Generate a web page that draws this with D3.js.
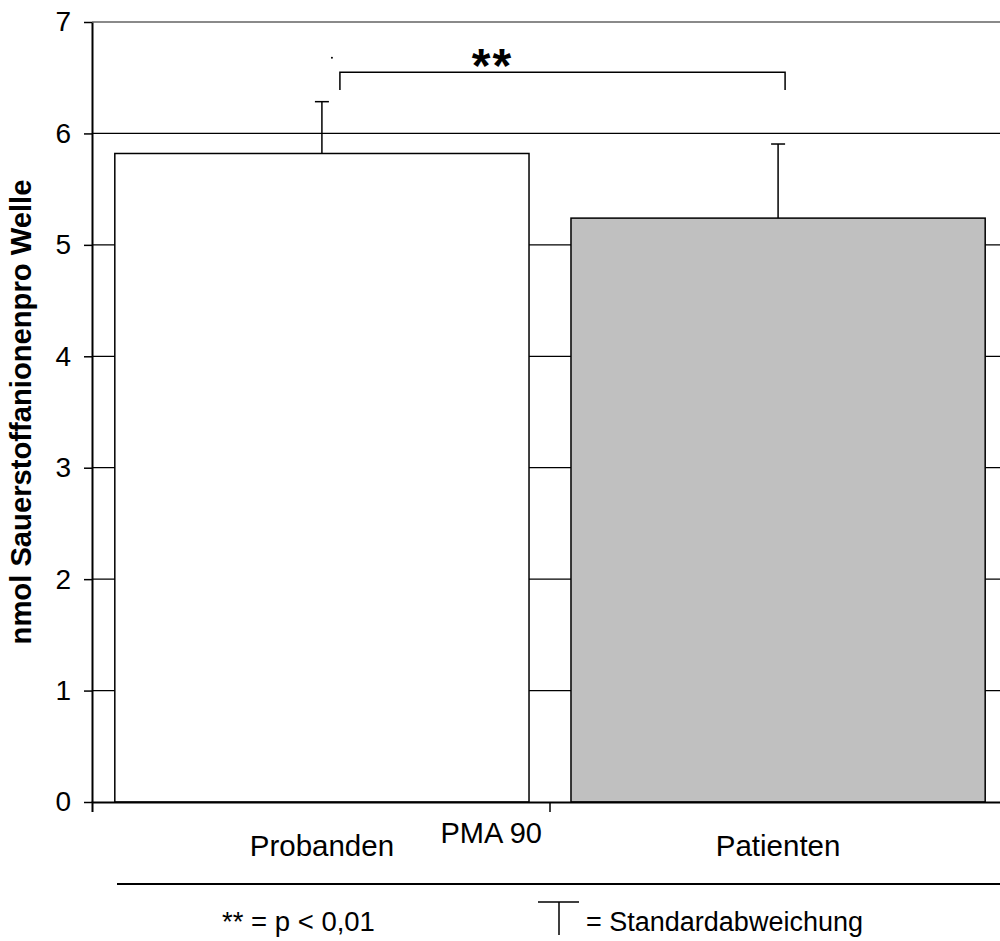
<!DOCTYPE html>
<html>
<head>
<meta charset="utf-8">
<script src="https://cdn.jsdelivr.net/npm/d3@7"></script>
<style>
  body { margin: 0; background: #fff; }
  svg { display: block; font-family: "Liberation Sans", Arial, sans-serif; }
</style>
</head>
<body>
<div id="chart"></div>
<script>
// values
const categories = ["Probanden", "Patienten"];
const means = [5.82, 5.24];
const sds = [0.465, 0.665];
const barColors = ["#ffffff", "#c0c0c0"];
const yTicks = [0, 1, 2, 3, 4, 5, 6, 7];
const axisTitleX = "PMA 90";
const axisTitleY = "nmol Sauerstoffanionenpro Welle";
const sigLabel = "**";
const sigLevels = [6.55, 6.39]; // bracket top, bracket ends
const legendItems = ["** = p < 0,01", "= Standardabweichung"];

const width = 1000, height = 941;
const plotLeft = 92, plotRight = 1008, plotTop = 22, plotBottom = 802;

const svg = d3.select("#chart").append("svg")
  .attr("width", width)
  .attr("height", height);

const y = d3.scaleLinear().domain([0, 7]).range([plotBottom, plotTop]);
const x = d3.scaleBand()
  .domain(categories)
  .range([plotLeft, plotRight])
  .paddingInner(0.092)
  .paddingOuter(0.05);

const bw = x.bandwidth();
const cx = d => x(d) + bw / 2;

// gridlines (behind bars)
svg.append("g")
  .selectAll("line")
  .data(yTicks.filter(t => t > 0))
  .join("line")
  .attr("x1", plotLeft).attr("x2", plotRight)
  .attr("y1", d => y(d)).attr("y2", d => y(d))
  .attr("stroke", d => d === 7 ? "#8a8a8a" : "#000")
  .attr("stroke-width", d => d === 7 ? 2 : 1.2);

// bars
svg.append("g")
  .selectAll("rect")
  .data(categories)
  .join("rect")
  .attr("x", d => x(d))
  .attr("y", (d, i) => y(means[i]))
  .attr("width", bw)
  .attr("height", (d, i) => y(0) - y(means[i]))
  .attr("fill", (d, i) => barColors[i])
  .attr("stroke", "#000")
  .attr("stroke-width", 1.5);

// error bars (upper only)
const capHalf = 7;
const err = svg.append("g").attr("stroke", "#000").attr("stroke-width", 1.5);
err.selectAll("line.v")
  .data(categories)
  .join("line")
  .attr("class", "v")
  .attr("x1", d => cx(d)).attr("x2", d => cx(d))
  .attr("y1", (d, i) => y(means[i]))
  .attr("y2", (d, i) => y(means[i] + sds[i]));
err.selectAll("line.c")
  .data(categories)
  .join("line")
  .attr("class", "c")
  .attr("x1", d => cx(d) - capHalf).attr("x2", d => cx(d) + capHalf)
  .attr("y1", (d, i) => y(means[i] + sds[i]))
  .attr("y2", (d, i) => y(means[i] + sds[i]));

// y axis
const yAxis = svg.append("g")
  .attr("transform", `translate(${plotLeft},0)`)
  .call(d3.axisLeft(y).tickValues(yTicks).tickFormat(d3.format("d"))
    .tickSize(8).tickSizeOuter(0).tickPadding(13));
yAxis.select(".domain").attr("stroke-width", 2);
yAxis.selectAll(".tick line").attr("stroke-width", 1.5);
yAxis.selectAll("text").attr("font-size", 28).attr("fill", "#000")
  .attr("font-family", "Liberation Sans, Arial, sans-serif");

// x axis: labels at band centres, ticks at band boundaries
const xAxis = svg.append("g")
  .attr("transform", `translate(0,${plotBottom})`)
  .call(d3.axisBottom(x).tickSizeInner(0).tickSizeOuter(10).tickPadding(33));
xAxis.select(".domain").attr("stroke-width", 2);
xAxis.selectAll("text").attr("font-size", 29.5).attr("fill", "#000")
  .attr("font-family", "Liberation Sans, Arial, sans-serif");

const midBoundary = (x(categories[0]) + bw + x(categories[1])) / 2;
svg.append("line")
  .attr("x1", midBoundary).attr("x2", midBoundary)
  .attr("y1", plotBottom).attr("y2", plotBottom + 10)
  .attr("stroke", "#000").attr("stroke-width", 1.5);

svg.append("text")
  .attr("x", midBoundary - 8)
  .attr("y", plotBottom + 41)
  .attr("text-anchor", "end")
  .attr("font-size", 29)
  .text(axisTitleX);

// y axis title
svg.append("text")
  .attr("transform", `translate(31,${(plotTop + plotBottom) / 2}) rotate(-90)`)
  .attr("text-anchor", "middle")
  .attr("font-size", 29.2)
  .attr("font-weight", "bold")
  .text(axisTitleY);

// significance bracket
const bx1 = cx(categories[0]) + 18;
const bx2 = cx(categories[1]) + capHalf;
svg.append("path")
  .attr("d", `M${bx1},${y(sigLevels[1])}V${y(sigLevels[0])}H${bx2}V${y(sigLevels[1])}`)
  .attr("fill", "none")
  .attr("stroke", "#000")
  .attr("stroke-width", 1.5);
svg.append("text")
  .attr("x", (bx1 + bx2) / 2 - 70)
  .attr("y", y(sigLevels[0]) + 10)
  .attr("text-anchor", "middle")
  .attr("font-size", 48)
  .attr("font-weight", "bold")
  .attr("letter-spacing", 2)
  .text(sigLabel);
// stray dot in the original
svg.append("circle")
  .attr("cx", cx(categories[0]) + 10)
  .attr("cy", y(6.68))
  .attr("r", 1)
  .attr("fill", "#000");

// legend
const legY = plotBottom + 82;
svg.append("line")
  .attr("x1", 117).attr("x2", plotRight)
  .attr("y1", legY).attr("y2", legY)
  .attr("stroke", "#000").attr("stroke-width", 2);

svg.append("text")
  .attr("x", 222).attr("y", legY + 47)
  .attr("font-size", 27.5)
  .text(legendItems[0]);

svg.append("path")
  .attr("d", `M538,${legY + 18}H579M559,${legY + 18}V${legY + 51}`)
  .attr("fill", "none").attr("stroke", "#000").attr("stroke-width", 1.5);

svg.append("text")
  .attr("x", 586).attr("y", legY + 47)
  .attr("font-size", 27)
  .text(legendItems[1]);
</script>
</body>
</html>
